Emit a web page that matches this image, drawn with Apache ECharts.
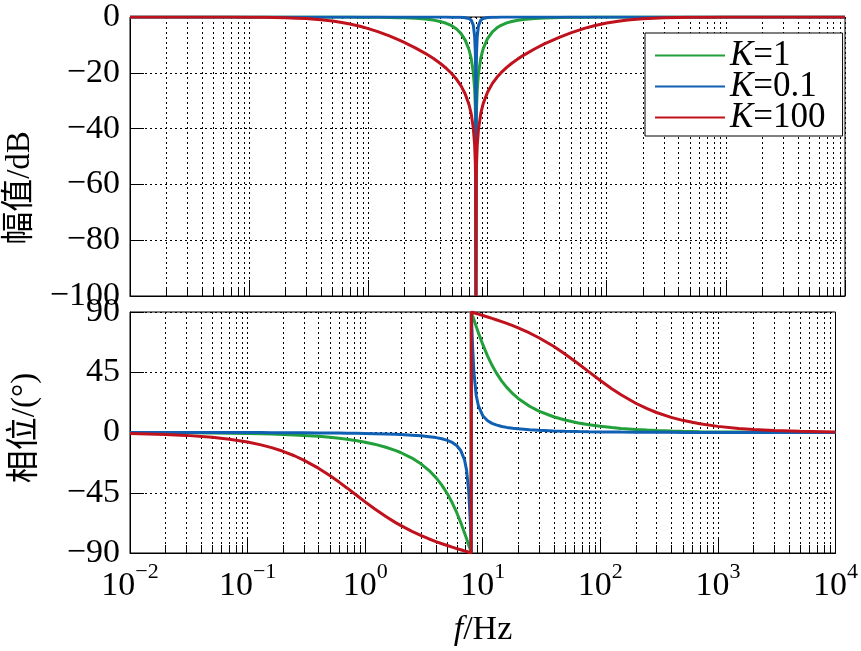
<!DOCTYPE html>
<html>
<head>
<meta charset="utf-8">
<script src="https://cdn.jsdelivr.net/npm/echarts@6/dist/echarts.min.js"></script>
<style>html,body{margin:0;padding:0;background:#fff;}#c{width:861px;height:651px;}</style>
</head>
<body>
<div id="c"></div>
<script>
// ---- data ----
const freqs = [0.01, 0.02, 0.03, 0.05, 0.07, 0.1, 0.13, 0.16, 0.2, 0.25, 0.3, 0.4, 0.5, 0.6, 0.7, 0.85, 1, 1.2, 1.5, 1.8, 2, 2.5, 3, 3.5, 4, 4.5, 5, 5.5, 6, 6.5, 7, 7.3, 7.6, 7.8, 7.9, 7.95, 8, 8, 8.05, 8.1, 8.2, 8.4, 8.8, 9.2, 10, 11, 12, 13, 14.5, 16, 18, 20, 25, 30, 40, 50, 65, 80, 100, 125, 150, 200, 250, 300, 400, 500, 700, 1000, 1500, 2000, 3000, 5000, 10000];
const seriesNames = ['K=1', 'K=0.1', 'K=100'];
const magK1 = [0, 0, 0, 0, 0, 0, 0, -0.002, -0.003, -0.004, -0.006, -0.011, -0.017, -0.025, -0.034, -0.050, -0.069, -0.101, -0.161, -0.237, -0.298, -0.492, -0.757, -1.115, -1.597, -2.246, -3.122, -4.313, -5.954, -8.271, -11.743, -14.876, -19.82, -25.92, -31.99, -38.04, -100, -100, -38.09, -32.10, -26.14, -20.25, -14.54, -11.372, -7.737, -5.294, -3.874, -2.969, -2.120, -1.597, -1.162, -0.888, -0.520, -0.344, -0.185, -0.116, -0.067, -0.044, -0.028, -0.018, -0.012, -0.007, -0.004, -0.003, -0.002, 0, 0, 0, 0, 0, 0, 0, 0];
const magK01 = [0, 0, 0, 0, 0, 0, 0, 0, 0, 0, 0, 0, 0, 0, 0, 0, -0.001, -0.001, -0.002, -0.002, -0.003, -0.005, -0.008, -0.013, -0.019, -0.029, -0.045, -0.073, -0.126, -0.241, -0.567, -1.131, -2.899, -6.901, -12.253, -18.102, -100, -100, -18.156, -12.355, -7.075, -3.117, -1.053, -0.520, -0.209, -0.102, -0.062, -0.042, -0.027, -0.019, -0.013, -0.010, -0.006, -0.004, -0.002, -0.001, 0, 0, 0, 0, 0, 0, 0, 0, 0, 0, 0, 0, 0, 0, 0, 0, 0];
const magK100 = [0, -0.003, -0.006, -0.017, -0.033, -0.067, -0.113, -0.170, -0.264, -0.405, -0.573, -0.974, -1.442, -1.956, -2.498, -3.334, -4.170, -5.257, -6.791, -8.206, -9.091, -11.137, -13.019, -14.811, -16.575, -18.370, -20.26, -22.329, -24.70, -27.58, -31.45, -34.73, -39.78, -45.91, -51.99, -58.03, -100, -100, -58.09, -52.10, -46.13, -40.21, -34.38, -31.05, -26.94, -23.79, -21.614, -19.96, -18.056, -16.575, -15.007, -13.743, -11.370, -9.657, -7.276, -5.678, -4.085, -3.054, -2.170, -1.501, -1.093, -0.647, -0.424, -0.299, -0.170, -0.110, -0.056, -0.028, -0.012, -0.007, -0.003, 0, 0];
const phK1 = [-0.07, -0.14, -0.21, -0.36, -0.50, -0.72, -0.93, -1.15, -1.43, -1.79, -2.15, -2.87, -3.59, -4.31, -5.04, -6.13, -7.24, -8.72, -11.0, -13.33, -14.93, -19.10, -23.57, -28.42, -33.69, -39.45, -45.72, -52.51, -59.74, -67.30, -75.0, -79.6, -84.14, -87.1, -88.56, -89.28, -90, 90, 89.29, 88.58, 87.17, 84.42, 79.19, 74.34, 65.77, 57.08, 50.19, 44.73, 38.42, 33.69, 28.98, 25.46, 19.62, 16.02, 11.77, 9.33, 7.12, 5.77, 4.60, 3.68, 3.06, 2.29, 1.83, 1.53, 1.15, 0.92, 0.65, 0.46, 0.31, 0.23, 0.15, 0.09, 0.05];
const phK01 = [-0.01, -0.01, -0.02, -0.04, -0.05, -0.07, -0.09, -0.11, -0.14, -0.18, -0.22, -0.29, -0.36, -0.43, -0.51, -0.62, -0.73, -0.88, -1.11, -1.36, -1.53, -1.98, -2.50, -3.10, -3.81, -4.70, -5.86, -7.43, -9.73, -13.45, -20.47, -28.60, -44.26, -63.14, -75.88, -82.85, -90, 90, 82.90, 76.05, 63.71, 45.69, 27.65, 19.63, 12.53, 8.78, 6.84, 5.66, 4.53, 3.81, 3.17, 2.73, 2.04, 1.64, 1.19, 0.94, 0.72, 0.58, 0.46, 0.37, 0.31, 0.23, 0.18, 0.15, 0.11, 0.09, 0.07, 0.05, 0.03, 0.02, 0.02, 0.01, 0];
const phK100 = [-0.72, -1.43, -2.15, -3.58, -5.00, -7.13, -9.23, -11.31, -14.04, -17.37, -20.6, -26.62, -32.1, -37.03, -41.4, -47.06, -51.8, -56.91, -62.8, -67.12, -69.4, -73.89, -77.1, -79.53, -81.5, -83.07, -84.4, -85.61, -86.7, -87.6, -88.5, -88.9, -89.41, -89.71, -89.86, -89.93, -90, 90, 89.93, 89.86, 89.72, 89.44, 88.91, 88.39, 87.42, 86.29, 85.24, 84.23, 82.81, 81.47, 79.77, 78.14, 74.33, 70.79, 64.36, 58.66, 51.33, 45.29, 38.84, 32.73, 28.14, 21.84, 17.76, 14.94, 11.31, 9.09, 6.52, 4.57, 3.05, 2.29, 1.53, 0.92, 0.46];
const minorMultipliers = [2, 3, 4, 5, 6, 7, 8, 9];
const decades = [0.01, 0.1, 1, 10, 100, 1000];

// ---- styling ----
const FONT = "'Liberation Serif', 'Times New Roman', 'Noto Sans CJK SC', serif";
const colors = ['#22a03a', '#0f5fb2', '#c0121c'];
const DASH = [2, 3];

const minorFreqs = [];
decades.forEach(d => minorMultipliers.forEach(m => minorFreqs.push(+(d * m).toPrecision(3))));

const pairs = (ys) => freqs.map((f, i) => [f, ys[i]]);

function minorRender(params, api) {
  const cs = params.coordSys;
  const p = api.coord([api.value(0), api.value(1)]);
  const x = Math.round(p[0]) + 0.5;
  return {
    type: 'group',
    children: [
      { type: 'line', shape: { x1: x, y1: cs.y, x2: x, y2: cs.y + cs.height },
        style: { stroke: '#000', lineWidth: 1, lineDash: DASH } },
      { type: 'line', shape: { x1: x, y1: cs.y + cs.height, x2: x, y2: cs.y + cs.height - 8 },
        style: { stroke: '#000', lineWidth: 1 } }
    ]
  };
}

const minus = v => (v < 0 ? '\u2212' + (-v) : '' + v);

const xCommon = {
  type: 'log', logBase: 10, min: 0.01, max: 10000, splitNumber: 6,
  axisLine: { show: true, onZero: false, lineStyle: { color: '#000', width: 1 } },
  axisTick: { show: true, inside: true, length: 16, lineStyle: { color: '#000', width: 1 } },
  splitLine: { show: true, lineStyle: { color: '#000', width: 1, type: DASH } },
  minorTick: { show: false }, minorSplitLine: { show: false }
};
const yCommon = {
  type: 'value',
  axisLine: { show: true, onZero: false, lineStyle: { color: '#000', width: 1 } },
  axisTick: { show: true, inside: true, length: 14, lineStyle: { color: '#000', width: 1 } },
  splitLine: { show: true, lineStyle: { color: '#000', width: 1, type: DASH } },
  axisLabel: { formatter: minus, fontFamily: FONT, fontSize: 34, color: '#000', margin: 10 }
};

const chart = echarts.init(document.getElementById('c'), null, { renderer: 'canvas' });

const lineSeries = [];
const mags = [magK1, magK01, magK100];
const phs = [phK1, phK01, phK100];
const lineBase = { type: 'line', symbol: 'none', showSymbol: false, silent: true };
seriesNames.forEach((n, i) => {
  lineSeries.push(Object.assign({}, lineBase, { name: n, xAxisIndex: 0, yAxisIndex: 0, data: pairs(mags[i]),
    lineStyle: { width: 3, color: colors[i] }, itemStyle: { color: colors[i] }, z: 5 + i }));
});
seriesNames.forEach((n, i) => {
  lineSeries.push(Object.assign({}, lineBase, { name: n, xAxisIndex: 1, yAxisIndex: 1, data: pairs(phs[i]),
    lineStyle: { width: 3, color: colors[i] }, itemStyle: { color: colors[i] }, z: 5 + i }));
});

chart.setOption({
  animation: false,
  backgroundColor: '#fff',
  grid: [
    { left: 130, right: 16, top: 17, height: 279, show: true, borderColor: '#000', borderWidth: 1, backgroundColor: 'transparent' },
    { left: 130, right: 16, top: 312, height: 241, show: true, borderColor: '#000', borderWidth: 1, backgroundColor: 'transparent' }
  ],
  xAxis: [
    Object.assign({}, xCommon, { gridIndex: 0, axisLabel: { show: false } }),
    Object.assign({}, xCommon, { gridIndex: 1, axisLabel: {
      show: true, margin: 8, color: '#000',
      formatter: v => { const e = Math.round(Math.log10(v)); return '{b|10}{s|' + (e < 0 ? '\u2212' + (-e) : e) + '}'; },
      rich: {
        b: { fontFamily: FONT, fontSize: 34, lineHeight: 42, color: '#000', verticalAlign: 'bottom' },
        s: { fontFamily: FONT, fontSize: 22, lineHeight: 22, color: '#000', verticalAlign: 'top' }
      }
    } })
  ],
  yAxis: [
    Object.assign({}, yCommon, { gridIndex: 0, min: -100, max: 0, interval: 20 }),
    Object.assign({}, yCommon, { gridIndex: 1, min: -90, max: 90, interval: 45 })
  ],
  legend: {
    data: seriesNames, orient: 'vertical', left: 645, top: 33,
    itemWidth: 70, itemHeight: 14, itemGap: -4, padding: [5, 17, 1, 10],
    borderColor: '#000', borderWidth: 1, backgroundColor: '#fff',
    icon: 'path://M0,6 L70,6 L70,8 L0,8 Z',
    selectedMode: false,
    formatter: n => '{i|K}' + n.slice(1),
    textStyle: { fontFamily: FONT, fontSize: 35, color: '#000',
      rich: { i: { fontFamily: FONT, fontSize: 35, fontStyle: 'italic', color: '#000' } } }
  },
  graphic: [
    { type: 'text', x: 20, y: 188, rotation: Math.PI / 2,
      style: { text: '幅值/dB', font: "33px " + FONT, fill: '#000', textAlign: 'center', textVerticalAlign: 'middle' } },
    { type: 'text', x: 25, y: 428, rotation: Math.PI / 2,
      style: { text: '相位/(°)', font: "33px " + FONT, fill: '#000', textAlign: 'center', textVerticalAlign: 'middle' } },
    { type: 'text', x: 483, y: 630,
      style: { text: '{i|f}/Hz', font: "34px " + FONT, fill: '#000', textAlign: 'center', textVerticalAlign: 'middle',
        rich: { i: { fontStyle: 'italic', fontFamily: FONT, fontSize: 34, fill: '#000' } } } }
  ],
  series: [
    { type: 'custom', xAxisIndex: 0, yAxisIndex: 0, data: minorFreqs.map(f => [f, -50]), renderItem: minorRender, silent: true, z: 1, clip: false },
    { type: 'custom', xAxisIndex: 1, yAxisIndex: 1, data: minorFreqs.map(f => [f, 0]), renderItem: minorRender, silent: true, z: 1, clip: false }
  ].concat(lineSeries)
});
</script>
</body>
</html>
